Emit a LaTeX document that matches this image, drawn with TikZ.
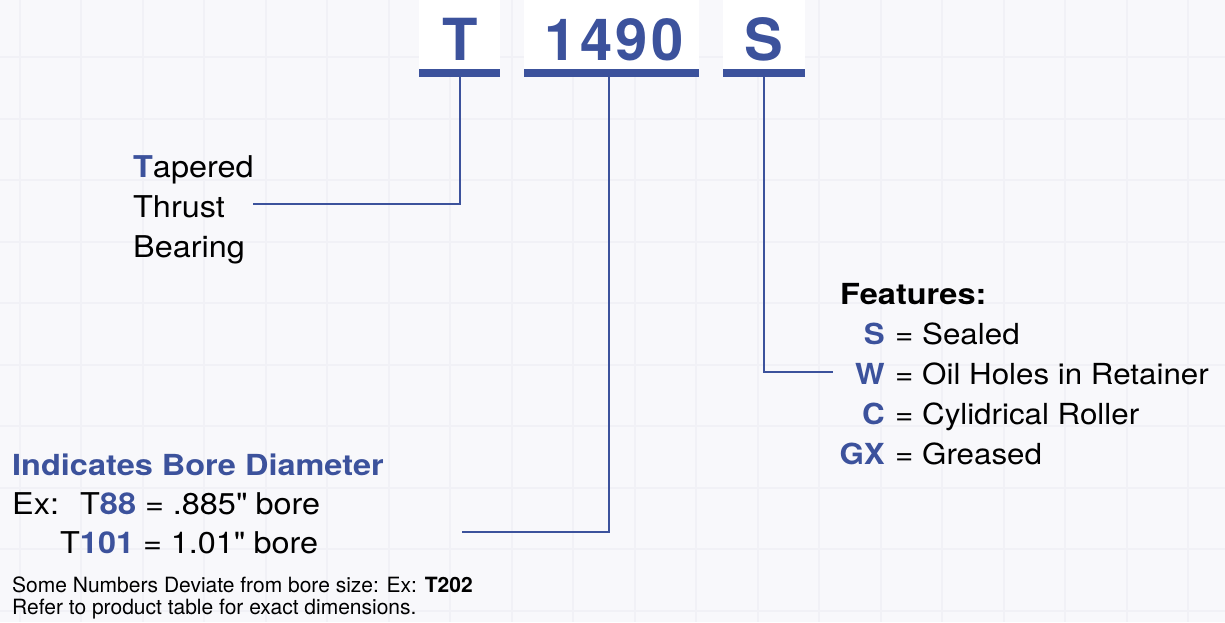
\documentclass[tikz,border=0pt]{standalone}
\usepackage{fontspec}
\setmainfont{TeX Gyre Heros}
\newfontfamily\bigfont[LetterSpace=6]{TeX Gyre Heros}
\newfontfamily\regf[FakeStretch=1.08]{TeX Gyre Heros}
\newfontfamily\headf[FakeStretch=1.12]{TeX Gyre Heros}
\definecolor{bblue}{HTML}{3C529C}
\definecolor{bg}{HTML}{F8F8FB}
\definecolor{gridc}{HTML}{F1F1F6}
\begin{document}
\begin{tikzpicture}[x=1pt,y=-1pt,
  conn/.style={draw=bblue,line width=2pt},
  wbox/.style={fill=white,draw=none},
  bar/.style={fill=bblue,draw=none,minimum height=8pt,inner sep=0pt},
  big/.style={font=\bigfont\fontsize{58}{58}\selectfont\bfseries,text=bblue,inner sep=0pt,anchor=base},
  lbl/.style={font=\regf\fontsize{30}{30}\selectfont,inner sep=0pt,anchor=base west},
  head/.style={font=\headf\fontsize{29}{29}\selectfont\bfseries,inner sep=0pt,anchor=base west},
  code/.style={font=\regf\fontsize{29}{29}\selectfont\bfseries,text=bblue,inner sep=0pt,anchor=base east},
  feat/.style={font=\regf\fontsize{29}{29}\selectfont,inner sep=0pt,anchor=base west},
  small/.style={font=\fontsize{21}{21}\selectfont,inner sep=0pt,anchor=base west}]
\fill[bg] (0,0) rectangle (1225,622);
\useasboundingbox (0,0) rectangle (1225,622);
\foreach \i in {0,...,19} {\draw[gridc,line width=2pt] ({19.5+61.5*\i},0) -- ({19.5+61.5*\i},622);}
\foreach \j in {1,...,10} {\draw[gridc,line width=2pt] (0,{-4.5+61.5*\j}) -- (1225,{-4.5+61.5*\j});}
% boxes
\fill[wbox] (419,0) rectangle (500,69);
\fill[wbox] (524,0) rectangle (699,69);
\fill[wbox] (723,0) rectangle (805,69);
\node[bar,minimum width=81pt] (tbar) at (459.5,73) {};
\node[bar,minimum width=175pt] (nbar) at (611.5,73) {};
\node[bar,minimum width=82pt] (sbar) at (764,73) {};
\node[big] (tl) at (460,60) {T};
\node[big] (nl) at (614,60) {1490};
\node[big] (sl) at (764,60) {S};
% left labels
\node[lbl] (tap) at (133,177) {\textcolor{bblue}{\bfseries T}apered};
\node[lbl] (thr) at (133,217) {Thrust};
\node[lbl] (bea) at (133,257) {Bearing};
% bore
\node[head,text=bblue] (ind) at (12,475) {Indicates Bore Diameter};
\node[lbl] (ex1) at (12,514) {Ex:};
\node[lbl] (ex2) at (80,514) {T\textcolor{bblue}{\bfseries 88} = .885\textquotedbl{} bore};
\node[lbl] (ex3) at (60,553) {T\textcolor{bblue}{\bfseries 101} = 1.01\textquotedbl{} bore};
\node[small] (sm1) at (12,592) {Some Numbers Deviate from bore size: Ex: \textbf{T202}};
\node[small] (sm2) at (12,614) {Refer to product table for exact dimensions.};
% features
\node[head] (feath) at (840,304) {Features:};
\node[code] (fs) at (885,344) {S};
\node[code] (fw) at (885,384) {W};
\node[code] (fc) at (885,424) {C};
\node[code] (fg) at (885,464) {GX};
\node[feat] (ts) at (895,344) {= Sealed};
\node[feat] (tw) at (895,384) {= Oil Holes in Retainer};
\node[feat] (tc) at (895,424) {= Cylidrical Roller};
\node[feat] (tg) at (895,464) {= Greased};
% connectors
\coordinate (tend) at (253,204);
\coordinate (nend) at (462,532);
\coordinate (send) at (833,372);
\draw[conn] (tbar.south -| tl) |- (tend);
\draw[conn] (nbar.south -| 609,0) |- (nend);
\draw[conn] (sbar.south) |- (send);
\end{tikzpicture}
\end{document}
